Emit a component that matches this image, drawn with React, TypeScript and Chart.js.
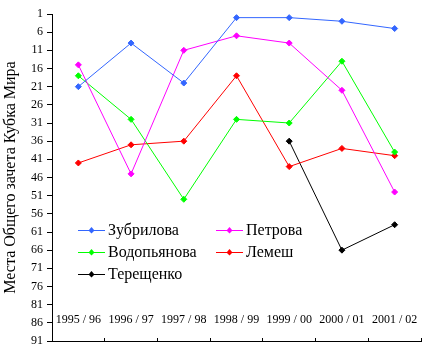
import React, { useEffect, useRef } from "react";
import { Chart, registerables } from "chart.js";

Chart.register(...registerables);

const seasons = ["1995 / 96", "1996 / 97", "1997 / 98", "1998 / 99", "1999 / 00", "2000 / 01", "2001 / 02"];
const zubrilova = [21, 9, 20, 2, 2, 3, 5];
const petrova = [15, 45, 11, 7, 9, 22, 50];
const vodopyanova = [18, 30, 52, 30, 31, 14, 39];
const lemesh = [42, 37, 36, 18, 43, 38, 40];
const tereshchenko = [null, null, null, null, 36, 66, 59];
const seriesNames = ["Зубрилова", "Петрова", "Водопьянова", "Лемеш", "Терещенко"];
const seriesColors = ["#3366FF", "#FF00FF", "#00FF00", "#FF0000", "#000000"];
const yAxisTitle = "Места Общего зачета Кубка Мира";

const SERIF = "'Liberation Serif', 'Times New Roman', serif";

const legendPlugin = {
  id: "insideLegend",
  afterDraw(chart: any) {
    const ctx = chart.ctx;
    const cols = [78, 216];
    const rows = [230, 252, 274];
    ctx.save();
    ctx.font = "16px " + SERIF;
    ctx.textBaseline = "middle";
    ctx.textAlign = "left";
    chart.data.datasets.forEach((ds: any, i: number) => {
      const x = cols[i % 2];
      const y = rows[Math.floor(i / 2)];
      ctx.strokeStyle = ds.borderColor;
      ctx.lineWidth = 1;
      ctx.beginPath();
      ctx.moveTo(x, y + 0.5);
      ctx.lineTo(x + 27, y + 0.5);
      ctx.stroke();
      ctx.fillStyle = ds.borderColor;
      ctx.beginPath();
      ctx.moveTo(x + 13.5, y - 3);
      ctx.lineTo(x + 16.5, y + 0.5);
      ctx.lineTo(x + 13.5, y + 3.5);
      ctx.lineTo(x + 10.5, y + 0.5);
      ctx.closePath();
      ctx.fill();
      ctx.fillStyle = "#000";
      ctx.fillText(ds.label, x + 30, y + 1);
    });
    ctx.restore();
  },
};

export default function App() {
  const ref = useRef<HTMLCanvasElement | null>(null);
  useEffect(() => {
    if (!ref.current) return;
    const data = [zubrilova, petrova, vodopyanova, lemesh, tereshchenko];
    const chart = new Chart(ref.current, {
      type: "line",
      data: {
        labels: seasons,
        datasets: data.map((d, i) => ({
          label: seriesNames[i],
          data: d,
          borderColor: seriesColors[i],
          backgroundColor: seriesColors[i],
          borderWidth: 1,
          pointStyle: "rectRot",
          pointRadius: 3,
          pointBorderWidth: 1,
          tension: 0,
          spanGaps: false,
        })),
      },
      options: {
        responsive: false,
        animation: false,
        layout: { padding: { left: 0, right: 3, top: 14, bottom: 0 } },
        plugins: { legend: { display: false }, tooltip: { enabled: false } },
        scales: {
          x: {
            offset: true,
            grid: { offset: true, drawOnChartArea: false, tickLength: -3, color: "#000" },
            border: { color: "#000", width: 1 },
            ticks: {
              mirror: true,
              padding: 14,
              color: "#000",
              font: { family: SERIF, size: 12 },
              maxRotation: 0,
              autoSkip: false,
            },
            afterFit: (s: any) => {
              s.height = 10;
              s.paddingLeft = 0;
              s.paddingRight = 0;
            },
          },
          y: {
            reverse: true,
            min: 1,
            max: 91,
            grid: { drawOnChartArea: false, tickLength: 5, color: "#000" },
            border: { color: "#000", width: 1 },
            ticks: {
              stepSize: 5,
              autoSkip: false,
              padding: 4,
              color: "#000",
              font: { family: SERIF, size: 12 },
            },
            title: {
              display: true,
              text: yAxisTitle,
              color: "#000",
              font: { family: SERIF, size: 16, weight: "normal" },
              padding: { top: 1, bottom: 0 },
            },
            afterFit: (s: any) => {
              s.width = 52;
              s.paddingTop = 0;
              s.paddingBottom = 0;
            },
          },
        },
      },
      plugins: [legendPlugin],
    } as any);
    return () => chart.destroy();
  }, []);
  return (
    <div style={{ position: "fixed", left: 0, top: 0, width: 426, height: 351, background: "#fff" }}>
      <canvas ref={ref} width={426} height={351} style={{ display: "block" }} />
    </div>
  );
}
